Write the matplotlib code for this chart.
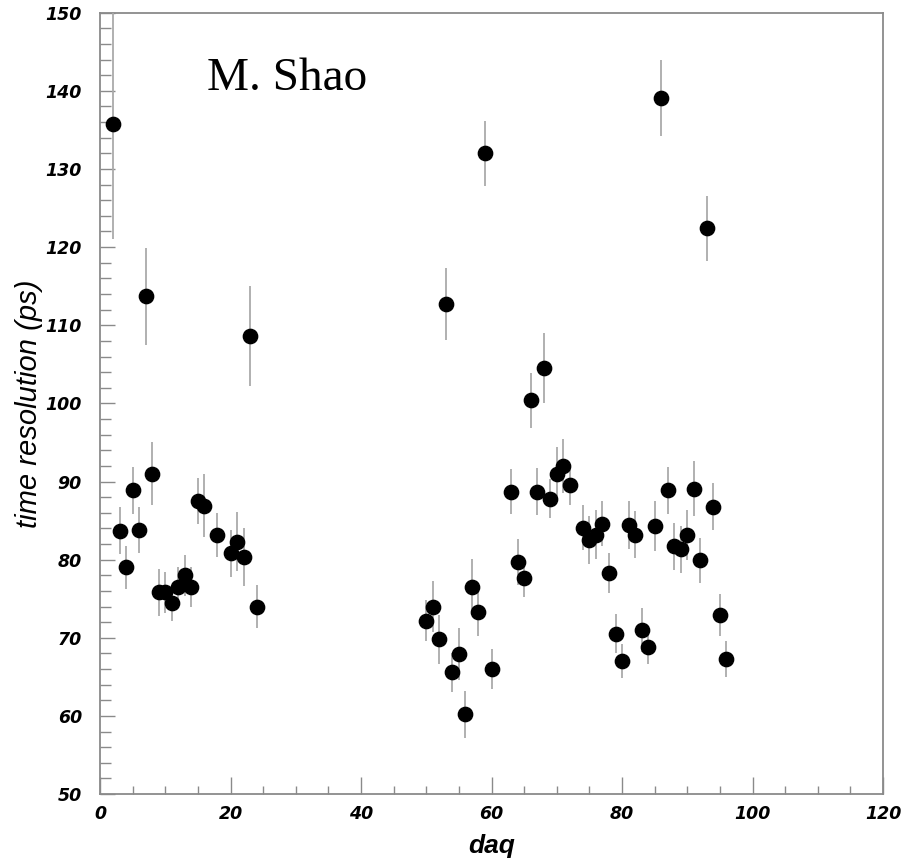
import matplotlib
matplotlib.use("Agg")
import matplotlib.pyplot as plt
from matplotlib.ticker import MultipleLocator

daq = [2, 3, 4, 5, 6, 7, 8, 9, 10, 11, 12, 13, 14, 15, 16, 18, 20, 21, 22, 23, 24,
       50, 51, 52, 53, 54, 55, 56, 57, 58, 59, 60, 63, 64, 65, 66, 67, 68, 69, 70,
       71, 72, 74, 75, 76, 77, 78, 79, 80, 81, 82, 83, 84, 85, 86, 87, 88, 89, 90,
       91, 92, 93, 94, 95, 96]
resolution = [135.8, 83.7, 79.0, 88.9, 83.8, 113.7, 91.0, 75.8, 75.8, 74.4, 76.5, 78.0,
              76.5, 87.5, 86.9, 83.2, 80.8, 82.3, 80.3, 108.6, 74.0,
              72.2, 74.0, 69.8, 112.7, 65.6, 67.9, 60.2, 76.5, 73.3, 132.0, 66.0,
              88.7, 79.7, 77.7, 100.4, 88.7, 104.5, 87.8, 90.9, 92.0, 89.5, 84.1,
              82.5, 83.2, 84.6, 78.3, 70.5, 67.0, 84.4, 83.2, 71.0, 68.8, 84.3,
              139.1, 88.9, 81.7, 81.3, 83.2, 89.1, 79.9, 122.4, 86.8, 72.9, 67.3]
errors = [14.8, 3.0, 2.7, 3.0, 2.9, 6.2, 4.0, 3.0, 2.6, 2.2, 2.6, 2.6, 2.6, 2.9, 4.0,
          2.8, 3.0, 3.8, 3.7, 6.4, 2.7,
          2.6, 3.3, 3.1, 4.6, 2.5, 3.3, 3.0, 3.6, 3.1, 4.2, 2.6, 2.9, 3.0, 2.5,
          3.5, 3.0, 4.5, 2.5, 3.5, 3.5, 2.5, 2.9, 3.1, 3.1, 2.9, 2.6, 2.5, 2.2,
          3.1, 3.0, 2.8, 2.2, 3.2, 4.9, 3.0, 3.0, 3.0, 3.2, 3.5, 2.9, 4.2, 3.0,
          2.7, 2.3]

fig = plt.figure(figsize=(9.02, 8.6), dpi=100)
ax = fig.add_axes([0.1109, 0.0767, 0.8681, 0.9085])

ax.errorbar(daq, resolution, yerr=errors, fmt='o', color='black', markersize=10.3,
            ecolor='#aaaaaa', elinewidth=1.3, capsize=0, zorder=3)

ax.set_xlim(0, 120)
ax.set_ylim(50, 150)

ax.xaxis.set_major_locator(MultipleLocator(20))
ax.xaxis.set_minor_locator(MultipleLocator(5))
ax.yaxis.set_major_locator(MultipleLocator(10))
ax.yaxis.set_minor_locator(MultipleLocator(2))

grey = '#8a8a8a'
for s in ax.spines.values():
    s.set_color(grey)
    s.set_linewidth(1.3)

ax.tick_params(axis='x', which='major', direction='in', length=12, width=1.0,
               color=grey, pad=8, top=False)
ax.tick_params(axis='x', which='minor', direction='in', length=6, width=1.0,
               color=grey, top=False)
ax.tick_params(axis='y', which='major', direction='in', length=11, width=1.0,
               color=grey, pad=13, right=False)
ax.tick_params(axis='y', which='minor', direction='in', length=8, width=1.0,
               color=grey, right=False)

for lbl in ax.get_xticklabels() + ax.get_yticklabels():
    lbl.set_fontfamily('DejaVu Sans')
    lbl.set_fontweight('bold')
    lbl.set_fontstyle('italic')
    lbl.set_fontsize(12.5)

ax.set_xlabel('daq', fontfamily='Liberation Sans', fontweight='bold',
              fontstyle='italic', fontsize=19, labelpad=8)
ax.set_ylabel('time resolution (ps)', fontfamily='Liberation Sans',
              fontstyle='italic', fontsize=21, labelpad=2)

ax.text(16.4, 140.1, 'M. Shao', fontfamily='Liberation Serif', fontsize=34,
        ha='left', va='baseline', color='black')

fig.savefig('out.png', dpi=100)
